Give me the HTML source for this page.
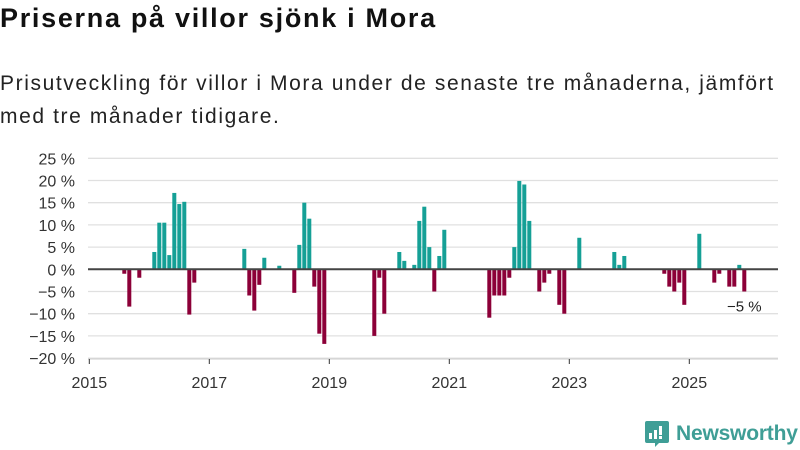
<!DOCTYPE html>
<html><head><meta charset="utf-8">
<style>
body{margin:0;width:800px;height:450px;background:#fff;font-family:"Liberation Sans",sans-serif;overflow:hidden;position:relative}
h1{position:absolute;left:0;top:3px;margin:0;font-size:27px;font-weight:bold;color:#111;letter-spacing:1.7px;white-space:nowrap}
.sub{position:absolute;left:0;top:67px;margin:0;font-size:21px;line-height:33px;color:#222;width:800px;letter-spacing:1.6px;white-space:nowrap}
svg{position:absolute;left:0;top:0}
</style></head><body>
<h1>Priserna på villor sjönk i Mora</h1>
<p class="sub">Prisutveckling för villor i Mora under de senaste tre månaderna, jämfört<br>med tre månader tidigare.</p>
<svg id="chart" width="800" height="450"></svg>
<div style="position:absolute;left:645px;top:420px;display:flex;align-items:center">
<svg width="24" height="28" style="position:static"><path d="M2 1h20a2 2 0 0 1 2 2v18a2 2 0 0 1-2 2H14l-4 4v-4H2a2 2 0 0 1-2-2V3a2 2 0 0 1 2-2z" fill="#3f9e96"/><rect x="4" y="13" width="3" height="6" fill="#fff"/><rect x="9" y="10" width="3" height="9" fill="#fff"/><rect x="14" y="6" width="3" height="9" fill="#fff"/><rect x="14" y="16" width="3" height="3" fill="#fff"/></svg>
<span style="margin-left:7px;font-size:21px;color:#3f9e96;font-weight:bold;letter-spacing:-0.2px">Newsworthy</span>
</div>
<script>
const months=[6,7,9,12,13,14,15,16,17,18,19,20,30,31,32,33,34,37,40,41,42,43,44,45,46,56,57,58,61,62,64,65,66,67,68,69,70,79,80,81,82,83,84,85,86,87,89,90,91,93,94,97,104,105,106,114,115,116,117,118,121,124,125,127,128,129,130];
const values=[-1,-8.4,-1.9,3.9,10.5,10.5,3.2,17.2,14.7,15.2,-10.2,-3,4.6,-5.9,-9.3,-3.5,2.6,0.8,-5.3,5.5,15,11.4,-3.9,-14.5,-16.8,-15,-1.9,-10,3.9,1.9,1,10.9,14.1,5,-5,3,8.9,-10.9,-5.9,-5.9,-5.9,-1.9,5,19.9,19.1,10.9,-5,-3,-1,-8,-10,7.1,3.9,1,3,-1,-3.9,-5,-3,-8,8,-3,-1,-3.9,-3.9,1,-5];
const yTicks=[25,20,15,10,5,0,-5,-10,-15,-20];
const xYears=[2015,2017,2019,2021,2023,2025];
const lastLabel="−5 %";
const svg=document.getElementById('chart');
const NS='http://www.w3.org/2000/svg';
const y=v=>269.3-v*4.44;
const x=m=>89.3+m*5;
function add(t,a,txt){const e=document.createElementNS(NS,t);for(const k in a)e.setAttribute(k,a[k]);if(txt!=null)e.textContent=txt;svg.appendChild(e);return e;}
yTicks.forEach(v=>{
  if(v!==0){const g=add('line',{x1:88,x2:778,y1:y(v),y2:y(v),stroke:'#e0e0e0','stroke-width':1.3});
  
  }
  const t=add('text',{x:75,y:y(v)+6,'text-anchor':'end','font-size':16,fill:'#333'},(v<0?'−'+(-v):v)+' %');
  
  
});
const ax=add('line',{x1:88,x2:778,y1:359,y2:359,stroke:'#ccc','stroke-width':1});


xYears.forEach(yr=>{
  const m=(yr-2015)*12;
  const tk=add('line',{x1:x(m),x2:x(m),y1:359,y2:364,stroke:'#333','stroke-width':1});
  
  
  const t=add('text',{x:x(m),y:388,'text-anchor':'middle','font-size':16,fill:'#333'},yr);
  
  
});
months.forEach((m,i)=>{
  const v=values[i];
  const top=Math.min(y(v),y(0)),h=Math.abs(y(v)-y(0));
  const r=add('rect',{x:x(m)+3,y:top,width:4,height:h,fill:v>=0?'#15a096':'#8c0038'});
  
  
});
const z=add('line',{x1:88,x2:778,y1:y(0),y2:y(0),stroke:'#444','stroke-width':2});


const lm=months[months.length-1],lv=values[values.length-1];
const lt=add('text',{x:x(lm)+5,y:y(lv)+20,'text-anchor':'middle','font-size':15,fill:'#222',stroke:'#fff','stroke-width':3,'paint-order':'stroke'},lastLabel);


</script>
</body></html>
